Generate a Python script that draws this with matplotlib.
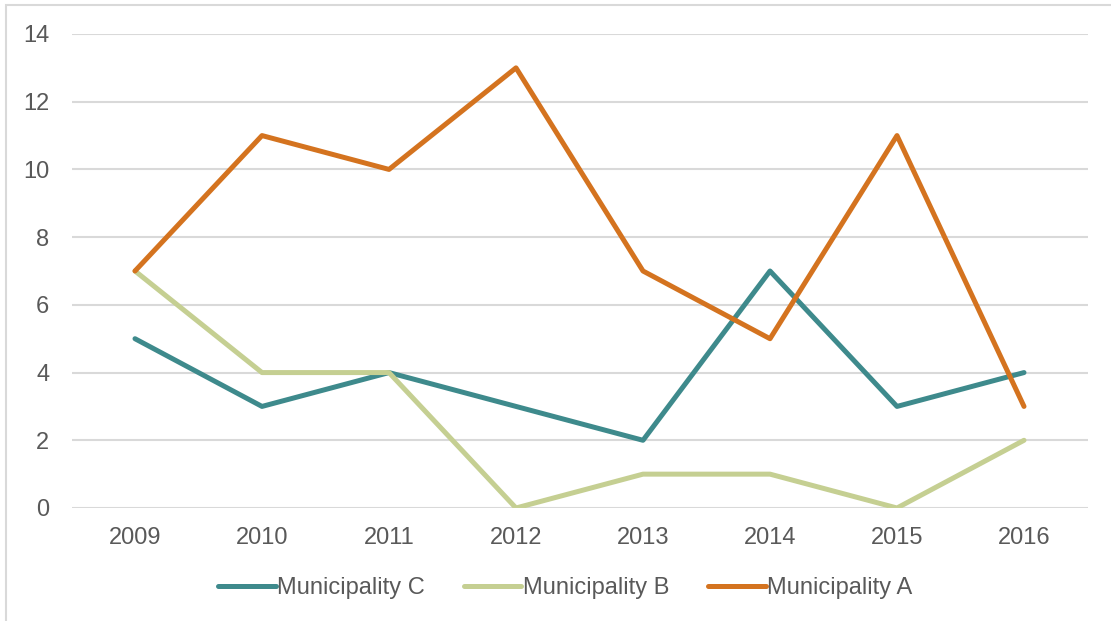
import matplotlib
matplotlib.use("Agg")
import matplotlib.pyplot as plt
from matplotlib.patches import Rectangle

years = ["2009", "2010", "2011", "2012", "2013", "2014", "2015", "2016"]
muni_c = [5, 3, 4, 3, 2, 7, 3, 4]
muni_b = [7, 4, 4, 0, 1, 1, 0, 2]
muni_a = [7, 11, 10, 13, 7, 5, 11, 3]
series_names = ["Municipality C", "Municipality B", "Municipality A"]
colors = ["#3E8A8C", "#C5CF92", "#D4731F"]
y_ticks = [0, 2, 4, 6, 8, 10, 12, 14]

plt.rcParams['font.family'] = ['Liberation Sans', 'DejaVu Sans']

fig = plt.figure(figsize=(11.11, 6.21), dpi=100)
W, H = 1111, 621
ax = fig.add_axes([71.5 / W, (H - 508) / H, 1016 / W, 474 / H])

x = list(range(len(years)))
for vals, name, col in zip([muni_c, muni_b, muni_a], series_names, colors):
    ax.plot(x, vals, color=col, lw=3.6, label=name, solid_joinstyle='round',
            solid_capstyle='round')

ax.set_xlim(-0.5, len(years) - 0.5)
ax.set_ylim(0, 14)
ax.set_yticks(y_ticks)
ax.set_xticks(x)
ax.set_xticklabels(years)
ax.grid(axis='y', color='#D9D9D9', lw=1.5)
ax.set_axisbelow(True)
for s in ax.spines.values():
    s.set_visible(False)
ax.tick_params(axis='both', length=0, labelsize=17, colors='#595959')
ax.tick_params(axis='x', pad=14)
ax.tick_params(axis='y', pad=16)

leg = fig.legend(loc='center', bbox_to_anchor=(565 / W, (H - 588) / H), ncol=3,
                 frameon=False, fontsize=17, handlelength=2.45, handletextpad=0.05,
                 columnspacing=1.65)
for t in leg.get_texts():
    t.set_color('#595959')

fig.patches.append(Rectangle((6 / W, -0.1), 1.2, (H - 5) / H + 0.1,
                             transform=fig.transFigure, fill=False,
                             edgecolor='#D9D9D9', lw=1.5))

fig.savefig("out.png", dpi=100, facecolor='white')
